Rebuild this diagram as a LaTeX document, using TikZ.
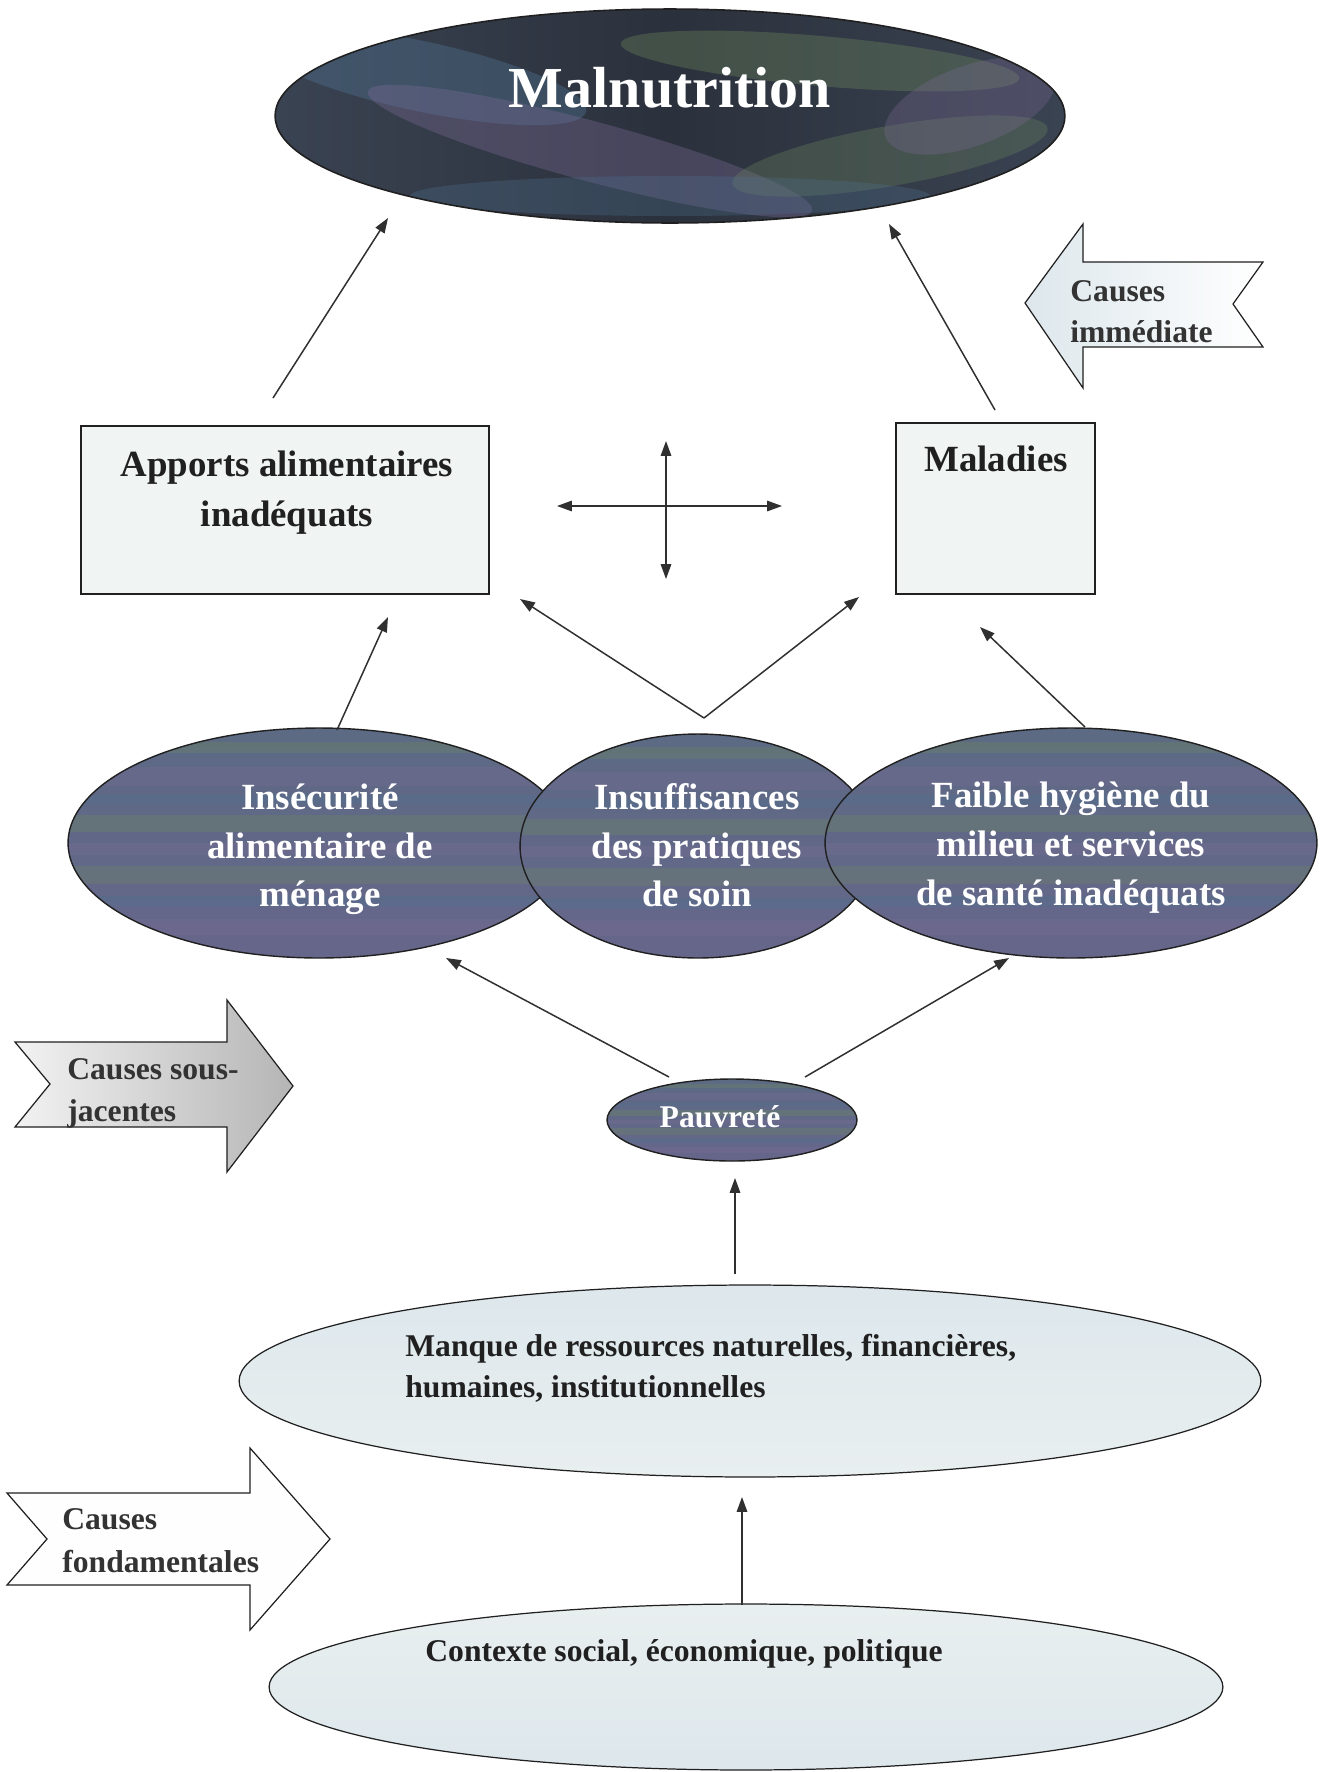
\documentclass[tikz,border=0pt]{standalone}
\usepackage{fontspec}
\setmainfont{Liberation Serif}
\usetikzlibrary{shapes.geometric,arrows.meta,calc}
\definecolor{ink}{HTML}{202020}
\definecolor{lineg}{HTML}{303030}
\definecolor{capt}{HTML}{333333}
\definecolor{dkA}{HTML}{3A4352}
\definecolor{dkB}{HTML}{2B313C}
\definecolor{stG}{HTML}{6F8A5E}
\definecolor{stP}{HTML}{7D6C98}
\definecolor{stB}{HTML}{4F7290}
\definecolor{midA}{HTML}{5C6A84}
\definecolor{midB}{HTML}{4F6F66}
\definecolor{midC}{HTML}{66668A}
\definecolor{paleA}{HTML}{DDE7EC}
\definecolor{paleB}{HTML}{E9EFEF}
\definecolor{boxfill}{HTML}{F0F4F3}
\begin{document}
\begin{tikzpicture}[x=0.02cm,y=-0.02cm,
  conn/.style={draw=lineg,line width=0.85pt,-{Triangle[length=8.5pt,width=6pt]}},
  biconn/.style={draw=lineg,line width=0.85pt,{Triangle[length=8.5pt,width=6pt]}-{Triangle[length=8.5pt,width=6pt]}},
  stripes/.style={path picture={
    \foreach \f/\w/\c in {0.06/0.05/stG,0.17/0.08/stP,0.29/0.04/stB,0.38/0.07/stG,0.5/0.05/stP,0.6/0.08/stG,0.73/0.05/stB,0.83/0.07/stP}{
      \fill[\c,opacity=.3] ($(path picture bounding box.north west)!\f!(path picture bounding box.south west)$) rectangle ($(path picture bounding box.north east)!{\f+\w}!(path picture bounding box.south east)$);}
  }},
  darkell/.style={ellipse,draw=ink,line width=0.8pt,inner sep=0pt,top color=midA,middle color=midB,bottom color=midC,stripes},
  paleell/.style={ellipse,draw=ink,line width=0.7pt,inner sep=0pt},
  boxn/.style={rectangle,draw=ink,line width=1.6pt,fill=boxfill,inner sep=0pt},
  wlbl/.style={inner sep=0pt,anchor=base,text=white,font=\bfseries\fontsize{21}{25}\selectfont},
  blbl/.style={inner sep=0pt,anchor=base,text=ink,font=\bfseries\fontsize{21}{25}\selectfont},
  clbl/.style={inner sep=0pt,anchor=base west,text=capt,font=\bfseries\fontsize{18}{22}\selectfont},
  slbl/.style={inner sep=0pt,anchor=base west,text=ink,font=\bfseries\fontsize{18}{22}\selectfont}
]
\useasboundingbox (0,0) rectangle (1320,1772);
\fill[white] (0,0) rectangle (1320,1772);

% ---------- Malnutrition ----------
\node[ellipse,draw=ink,line width=0.9pt,inner sep=0pt,minimum width=15.8cm,minimum height=4.28cm,
  left color=dkA,right color=dkA,middle color=dkB,
  path picture={
    \fill[stB,opacity=.4] ($(path picture bounding box.center)+(-250,-40)$) ellipse [x radius=170,y radius=35,rotate=-12];
    \fill[stG,opacity=.35] ($(path picture bounding box.center)+(150,-55)$) ellipse [x radius=200,y radius=25,rotate=-5];
    \fill[stP,opacity=.35] ($(path picture bounding box.center)+(-80,35)$) ellipse [x radius=230,y radius=30,rotate=-15];
    \fill[stG,opacity=.3] ($(path picture bounding box.center)+(220,40)$) ellipse [x radius=160,y radius=30,rotate=10];
    \fill[stB,opacity=.3] ($(path picture bounding box.center)+(0,80)$) ellipse [x radius=260,y radius=20];
    \fill[stP,opacity=.3] ($(path picture bounding box.center)+(300,-10)$) ellipse [x radius=90,y radius=40,rotate=20];
  }] (malnut) at (670,116) {};
\node[inner sep=0pt,anchor=base,text=white,font=\bfseries\fontsize{33}{38}\selectfont] (tmal) at (670,107) {Malnutrition};

% ---------- Causes immédiate ----------
\path[draw=ink,line width=0.7pt,left color=paleA,right color=white]
  (1025,303) -- (1083,224) -- (1083,262) -- (1263,262) -- (1233,304) -- (1263,347) -- (1083,347) -- (1083,388) -- cycle;
\node[clbl] (cim1) at (1070,301) {Causes};
\node[clbl] (cim2) at (1070,342) {immédiate};

% ---------- Boxes ----------
\node[boxn,minimum width=8.16cm,minimum height=3.36cm] (apports) at (285,510) {};
\node[blbl] (tap1) at (287,476) {Apports alimentaires};
\node[blbl] (tap2) at (287,526) {inadéquats};
\node[boxn,minimum width=3.98cm,minimum height=3.42cm] (maladies) at (995.5,508.5) {};
\node[blbl] (tmala) at (996,471) {Maladies};

% ---------- cross ----------
\coordinate (hL) at (557,506); \coordinate (hR) at (782,506);
\coordinate (vT) at (666,441); \coordinate (vB) at (666,579);
\draw[biconn] (hL) -- (hR);
\draw[biconn] (vT) -- (vB);

% ---------- middle ellipses ----------
\node[darkell,minimum width=10.04cm,minimum height=4.6cm] (insec) at (319,843) {};
\node[darkell,minimum width=7.12cm,minimum height=4.48cm] (insuf) at (698,846) {};
\node[darkell,minimum width=9.84cm,minimum height=4.6cm] (faible) at (1071,843) {};
\node[wlbl] (ti1) at (320,809) {Insécurité};
\node[wlbl] (ti2) at (320,858) {alimentaire de};
\node[wlbl] (ti3) at (320,906) {ménage};
\node[wlbl] (tu1) at (697,809) {Insuffisances};
\node[wlbl] (tu2) at (697,858) {des pratiques};
\node[wlbl] (tu3) at (697,906) {de soin};
\node[wlbl] (tf1) at (1071,807) {Faible hygiène du};
\node[wlbl] (tf2) at (1071,856) {milieu et services};
\node[wlbl] (tf3) at (1071,905) {de santé inadéquats};

% ---------- Pauvreté ----------
\node[darkell,minimum width=5cm,minimum height=1.64cm] (pauv) at (732,1120) {};
\node[inner sep=0pt,anchor=base,text=white,font=\bfseries\fontsize{18}{22}\selectfont] (tpauv) at (720,1127) {Pauvreté};

% ---------- Causes sous-jacentes ----------
\path[draw=ink,line width=0.7pt,left color=gray!10,middle color=gray!28,right color=gray!58]
  (15,1042) -- (227,1042) -- (227,1000) -- (293,1086) -- (227,1172) -- (227,1127) -- (15,1127) -- (50,1084) -- cycle;
\node[clbl] (csj1) at (67,1079) {Causes sous-};
\node[clbl] (csj2) at (67,1121) {jacentes};

% ---------- Manque ----------
\node[paleell,minimum width=20.44cm,minimum height=3.84cm,top color=paleA,bottom color=paleB] (manque) at (750,1381) {};
\node[slbl] (tm1) at (405,1356) {Manque de ressources naturelles, financières,};
\node[slbl] (tm2) at (405,1397) {humaines, institutionnelles};

% ---------- Causes fondamentales ----------
\path[draw=ink,line width=0.7pt,fill=white!96!paleA]
  (7,1493) -- (250,1493) -- (250,1448) -- (330,1539) -- (250,1630) -- (250,1585) -- (7,1585) -- (47,1539) -- cycle;
\node[clbl] (cf1) at (62,1529) {Causes};
\node[clbl] (cf2) at (62,1572) {fondamentales};

% ---------- Contexte ----------
\node[paleell,minimum width=19.08cm,minimum height=3.32cm,top color=paleB,bottom color=paleA] (contexte) at (746,1687) {};
\node[slbl] (tc1) at (425,1661) {Contexte social, économique, politique};

% ---------- connectors ----------
\coordinate (a1s) at (273,398); \coordinate (a1e) at (388,218);
\coordinate (a2s) at (995,410); \coordinate (a2e) at (889,224);
\coordinate (apex) at (704,718); \coordinate (vL) at (520,599); \coordinate (vR) at (859,597);
\coordinate (a3s) at (337,730); \coordinate (a3e) at (388,617);
\coordinate (a4s) at (1085,727); \coordinate (a4e) at (980,627);
\coordinate (p1s) at (669,1077); \coordinate (p1e) at (446,958);
\coordinate (p2s) at (805,1077); \coordinate (p2e) at (1009,958);
\coordinate (m1s) at (735,1274); \coordinate (m1e) at (735,1178);
\coordinate (k1s) at (742,1605); \coordinate (k1e) at (742,1497);
\draw[conn] (a1s) -- (a1e);
\draw[conn] (a2s) -- (a2e);
\draw[conn] (apex) -- (vL);
\draw[conn] (apex) -- (vR);
\draw[conn] (a3s) -- (a3e);
\draw[conn] (a4s) -- (a4e);
\draw[conn] (p1s) -- (p1e);
\draw[conn] (p2s) -- (p2e);
\draw[conn] (m1s) -- (m1e);
\draw[conn] (k1s) -- (k1e);
\end{tikzpicture}
\end{document}
